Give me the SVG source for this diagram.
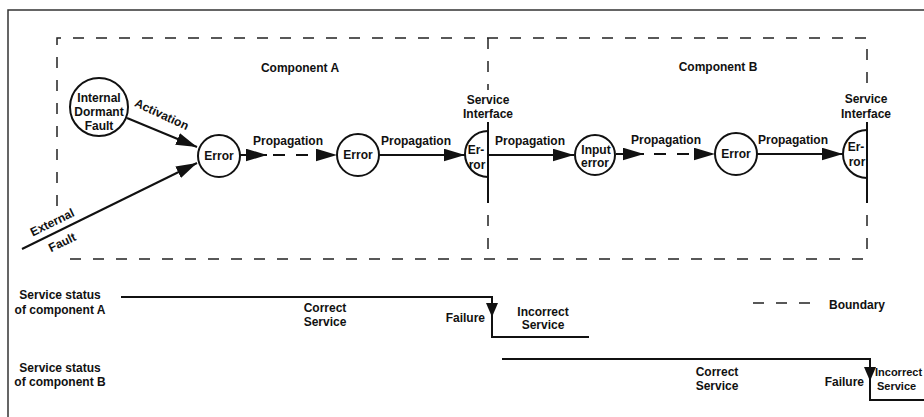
<svg xmlns="http://www.w3.org/2000/svg" width="924" height="417" viewBox="0 0 924 417">
<defs>
<style>
.t{font-family:"Liberation Sans",Arial,Helvetica,sans-serif;font-size:12px;font-weight:bold;fill:#111}
.m{text-anchor:middle}
.node{fill:#fff;stroke:#111;stroke-width:2}
.ln{fill:none;stroke:#111;stroke-width:2}
.dl{fill:none;stroke:#111;stroke-width:2;stroke-dasharray:12 11}
.bd{fill:none;stroke:#222;stroke-width:1.5;stroke-dasharray:11 12}
.iface{fill:none;stroke:#111;stroke-width:2}
</style>
<marker id="arr" viewBox="0 0 20 12" refX="20" refY="6" markerWidth="21" markerHeight="13" markerUnits="userSpaceOnUse" orient="auto">
<path d="M0,0 L20,6 L0,12 z" fill="#111"/>
</marker>
</defs>
<rect width="924" height="417" fill="#fff"/>
<path d="M8,417 V10 H924" fill="none" stroke="#333" stroke-width="1.5"/>

<g id="boundaries">
<path class="bd" d="M57,206 V38 H867 V90"/>
<path class="bd" d="M867,215 V250"/>
<path class="bd" d="M70,259 H867"/>
<path class="bd" d="M488,38 V90"/>
<path class="bd" d="M488,215 V250"/>
<path class="iface" d="M488,122 V203"/>
<path class="iface" d="M867,122 V203"/>
<text class="t m" x="300" y="72">Component A</text>
<text class="t m" x="718" y="71">Component B</text>
</g>

<g id="connectors">
<line class="ln" x1="127" y1="118" x2="197" y2="147" marker-end="url(#arr)"/>
<line class="ln" x1="22" y1="249" x2="197" y2="163" marker-end="url(#arr)"/>
<line class="ln" x1="240" y1="155" x2="267" y2="155" marker-end="url(#arr)"/>
<line class="dl" x1="273" y1="155" x2="337" y2="155" marker-end="url(#arr)"/>
<line class="ln" x1="379" y1="155" x2="465" y2="155" marker-end="url(#arr)"/>
<line class="ln" x1="488" y1="155" x2="574" y2="155" marker-end="url(#arr)"/>
<line class="ln" x1="616" y1="154" x2="644" y2="154" marker-end="url(#arr)"/>
<line class="dl" x1="654" y1="154" x2="715" y2="154" marker-end="url(#arr)"/>
<line class="ln" x1="757" y1="154" x2="843" y2="154" marker-end="url(#arr)"/>
<text class="t m" transform="translate(160,118) rotate(25)" x="0" y="0">Activation</text>
<text class="t m" transform="translate(54,226) rotate(-26)" x="0" y="0">External</text>
<text class="t m" transform="translate(64,246) rotate(-26)" x="0" y="0">Fault</text>
<text class="t m" x="288" y="145">Propagation</text>
<text class="t m" x="416" y="145">Propagation</text>
<text class="t m" x="530" y="145">Propagation</text>
<text class="t m" x="666" y="144">Propagation</text>
<text class="t m" x="793" y="144">Propagation</text>
</g>

<g id="internal-dormant-fault">
<circle class="node" cx="99" cy="107" r="29"/>
<text class="t m" x="99" y="102">Internal</text>
<text class="t m" x="99" y="116">Dormant</text>
<text class="t m" x="99" y="130">Fault</text>
</g>

<g id="error-a1">
<circle class="node" cx="219" cy="156" r="21"/>
<text class="t m" x="219" y="160">Error</text>
</g>

<g id="error-a2">
<circle class="node" cx="358" cy="155" r="21"/>
<text class="t m" x="358" y="159">Error</text>
</g>

<g id="interface-a">
<path class="iface" d="M488,131 A23,23 0 0 0 488,177"/>
<text class="t m" x="476" y="154">Er-</text>
<text class="t m" x="477" y="169">ror</text>
<text class="t m" x="488" y="104">Service</text>
<text class="t m" x="488" y="118">Interface</text>
</g>

<g id="input-error">
<circle class="node" cx="595" cy="155" r="20"/>
<text class="t m" x="596" y="154">Input</text>
<text class="t m" x="595" y="167">error</text>
</g>

<g id="error-b">
<circle class="node" cx="736" cy="154" r="21"/>
<text class="t m" x="736" y="158">Error</text>
</g>

<g id="interface-b">
<path class="iface" d="M867,130 A24,24 0 0 0 867,178"/>
<text class="t m" x="856" y="151">Er-</text>
<text class="t m" x="857" y="166">ror</text>
<text class="t m" x="866" y="103">Service</text>
<text class="t m" x="866" y="118">Interface</text>
</g>

<g id="status-a">
<text class="t m" x="60" y="299">Service status</text>
<text class="t m" x="60" y="314">of component A</text>
<path class="ln" d="M121,297 H492 V337 H589"/>
<polygon points="486,303 498,303 492,317" fill="#111"/>
<text class="t m" x="325" y="312">Correct</text>
<text class="t m" x="325" y="326">Service</text>
<text class="t" x="485" y="322" text-anchor="end">Failure</text>
<text class="t m" x="543" y="316">Incorrect</text>
<text class="t m" x="543" y="329">Service</text>
</g>

<g id="status-b">
<text class="t m" x="60" y="372">Service status</text>
<text class="t m" x="60" y="386">of component B</text>
<path class="ln" d="M502,359 H870 V400 H924"/>
<polygon points="864,367 876,367 870,381" fill="#111"/>
<text class="t m" x="717" y="376">Correct</text>
<text class="t m" x="717" y="390">Service</text>
<text class="t" x="864" y="386" text-anchor="end">Failure</text>
<text class="t" x="875" y="376" style="font-size:11px">Incorrect</text>
<text class="t" x="877" y="390" style="font-size:11px">Service</text>
</g>

<g id="legend">
<line class="bd" x1="753" y1="303" x2="810" y2="303"/>
<text class="t" x="829" y="309">Boundary</text>
</g>
</svg>
